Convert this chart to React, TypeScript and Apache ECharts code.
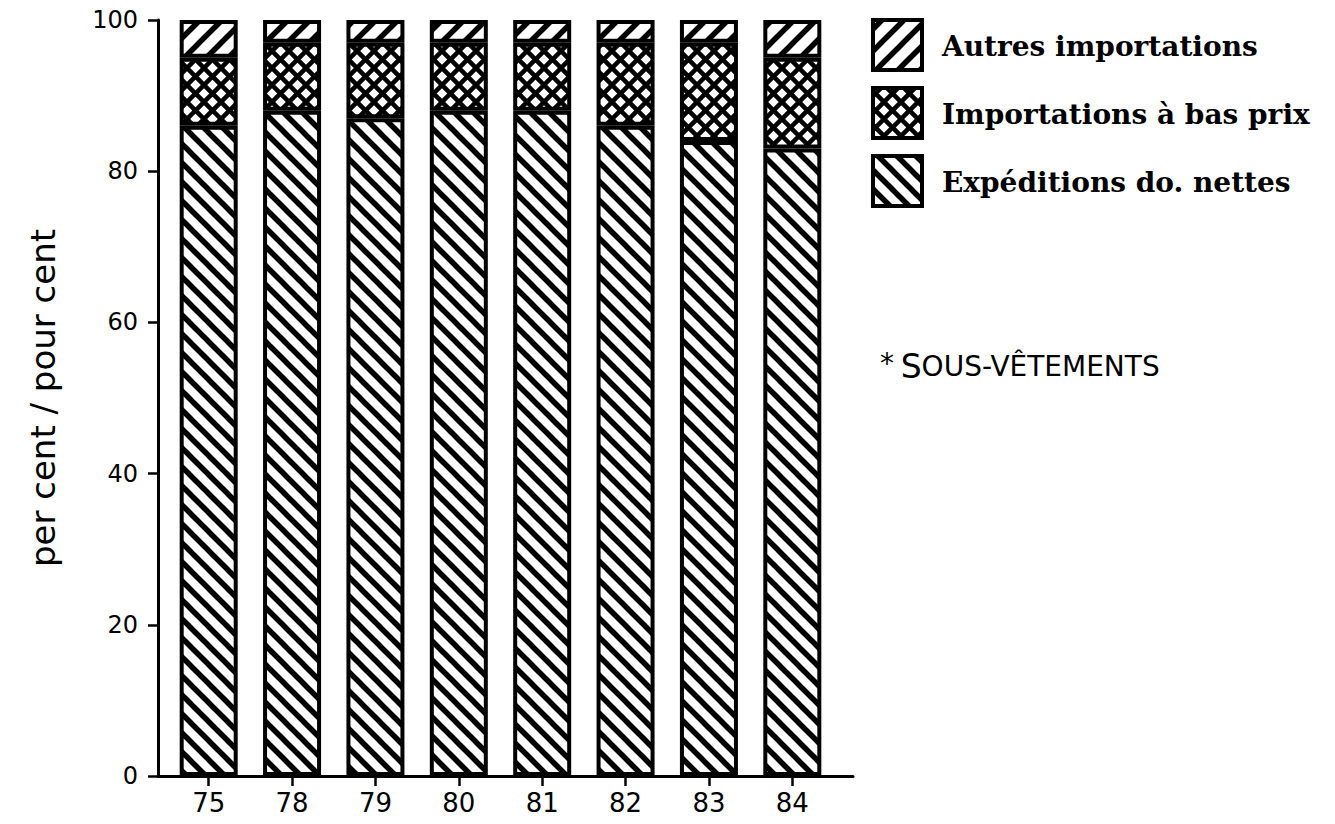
import React, { useEffect, useRef } from "react";
import * as echarts from "echarts";

const years = ["75", "78", "79", "80", "81", "82", "83", "84"];
const expeditions = [86, 88, 87, 88, 88, 86, 84, 83];
const basPrix = [9, 9, 10, 9, 9, 11, 13, 12];
const autres = [5, 3, 3, 3, 3, 3, 3, 5];
const yTicks = [0, 20, 40, 60, 80, 100];
const legendNames = ["Autres importations", "Importations à bas prix", "Expéditions do. nettes"];

function makePattern(kind: "back" | "fwd" | "cross", p: number, q: number, lw: number) {
  const c = document.createElement("canvas");
  c.width = p;
  c.height = q;
  const ctx = c.getContext("2d")!;
  ctx.fillStyle = "#fff";
  ctx.fillRect(0, 0, p, q);
  ctx.strokeStyle = "#000";
  ctx.lineWidth = lw;
  const drawBack = () => {
    for (let k = -2; k <= 2; k++) {
      ctx.beginPath();
      ctx.moveTo(k * p - p, -q);
      ctx.lineTo(k * p + 2 * p, 2 * q);
      ctx.stroke();
    }
  };
  const drawFwd = () => {
    for (let k = -2; k <= 2; k++) {
      ctx.beginPath();
      ctx.moveTo(k * p + 2 * p, -q);
      ctx.lineTo(k * p - p, 2 * q);
      ctx.stroke();
    }
  };
  if (kind === "back") drawBack();
  else if (kind === "fwd") drawFwd();
  else {
    drawBack();
    drawFwd();
  }
  return { image: c, repeat: "repeat" } as any;
}

export default function App() {
  const ref = useRef<HTMLDivElement>(null);
  useEffect(() => {
    if (!ref.current) return;
    const chart = echarts.init(ref.current, undefined, { renderer: "svg" });
    const pBack = makePattern("back", 19, 19, 5.5);
    const pFwd = makePattern("fwd", 22, 22, 5.5);
    const pCross = makePattern("cross", 17, 17, 4.5);
    const legendPatterns = [pFwd, pCross, pBack];

    const gridTop = 20;
    const gridH = 756;
    const legendGraphics: any[] = [];
    const legY = [20, 88, 156];
    legendNames.forEach((n, i) => {
      legendGraphics.push({
        type: "rect",
        shape: { x: 873, y: legY[i], width: 49, height: 50 },
        style: { fill: legendPatterns[i], stroke: "#000", lineWidth: 4 },
      });
      legendGraphics.push({
        type: "text",
        x: 942,
        y: legY[i] + 26,
        style: {
          text: n,
          font: "bold 28px 'DejaVu Serif'",
          fill: "#000",
          verticalAlign: "middle",
          align: "left",
        },
      });
    });
    legendGraphics.push({
      type: "text",
      x: 880,
      y: 366,
      style: {
        text: "{s|*}  {b|S}{m|OUS-VÊTEMENTS}",
        fill: "#000",
        verticalAlign: "middle",
        rich: {
          s: { fontSize: 28, fontFamily: "DejaVu Sans", fill: "#000", verticalAlign: "top" },
          b: { fontSize: 33, fontFamily: "DejaVu Sans", fill: "#000" },
          m: { fontSize: 28, fontFamily: "DejaVu Sans", fill: "#000" },
        },
      },
    });

    const mk = (name: string, data: number[], pat: any) => ({
      type: "bar",
      name,
      stack: "a",
      xAxisIndex: 1,
      yAxisIndex: 1,
      data,
      barWidth: 58,
      itemStyle: { color: pat, borderColor: "#000", borderWidth: 4 },
    });

    chart.setOption({
      animation: false,
      backgroundColor: "#fff",
      grid: [
        { left: 158, top: gridTop, width: 695, height: gridH },
        { left: 167, top: gridTop, width: 667, height: gridH },
      ],
      xAxis: [
        {
          gridIndex: 0,
          type: "category",
          data: [""],
          axisLine: { show: true, lineStyle: { color: "#000", width: 3 } },
          axisTick: { show: false },
          axisLabel: { show: false },
        },
        {
          gridIndex: 1,
          type: "category",
          data: years,
          axisLine: { show: false },
          axisTick: { show: true, alignWithLabel: true, length: 10, lineStyle: { color: "#000", width: 2.5 } },
          axisLabel: { color: "#000", fontSize: 26, fontFamily: "DejaVu Sans", margin: 14 },
        },
      ],
      yAxis: [
        {
          gridIndex: 0,
          type: "value",
          min: 0,
          max: 100,
          interval: 20,
          splitLine: { show: false },
          axisLine: { show: true, lineStyle: { color: "#000", width: 3 } },
          axisTick: { show: true, length: 10, lineStyle: { color: "#000", width: 2.5 } },
          axisLabel: {
            color: "#000",
            fontSize: 24,
            fontFamily: "DejaVu Sans",
            margin: 20,
            formatter: (v: number) => (yTicks.includes(v) ? String(v) : ""),
          },
          name: "per cent / pour cent",
          nameLocation: "middle",
          nameGap: 98,
          nameTextStyle: { color: "#000", fontSize: 34, fontFamily: "DejaVu Sans" },
        },
        {
          gridIndex: 1,
          type: "value",
          min: 0,
          max: 100,
          show: false,
          splitLine: { show: false },
        },
      ],
      series: [
        mk("Expéditions do. nettes", expeditions, pBack),
        mk("Importations à bas prix", basPrix, pCross),
        mk("Autres importations", autres, pFwd),
      ],
      graphic: legendGraphics,
    });
    return () => chart.dispose();
  }, []);
  return <div ref={ref} style={{ position: "absolute", left: 0, top: 0, width: 1335, height: 824 }} />;
}
